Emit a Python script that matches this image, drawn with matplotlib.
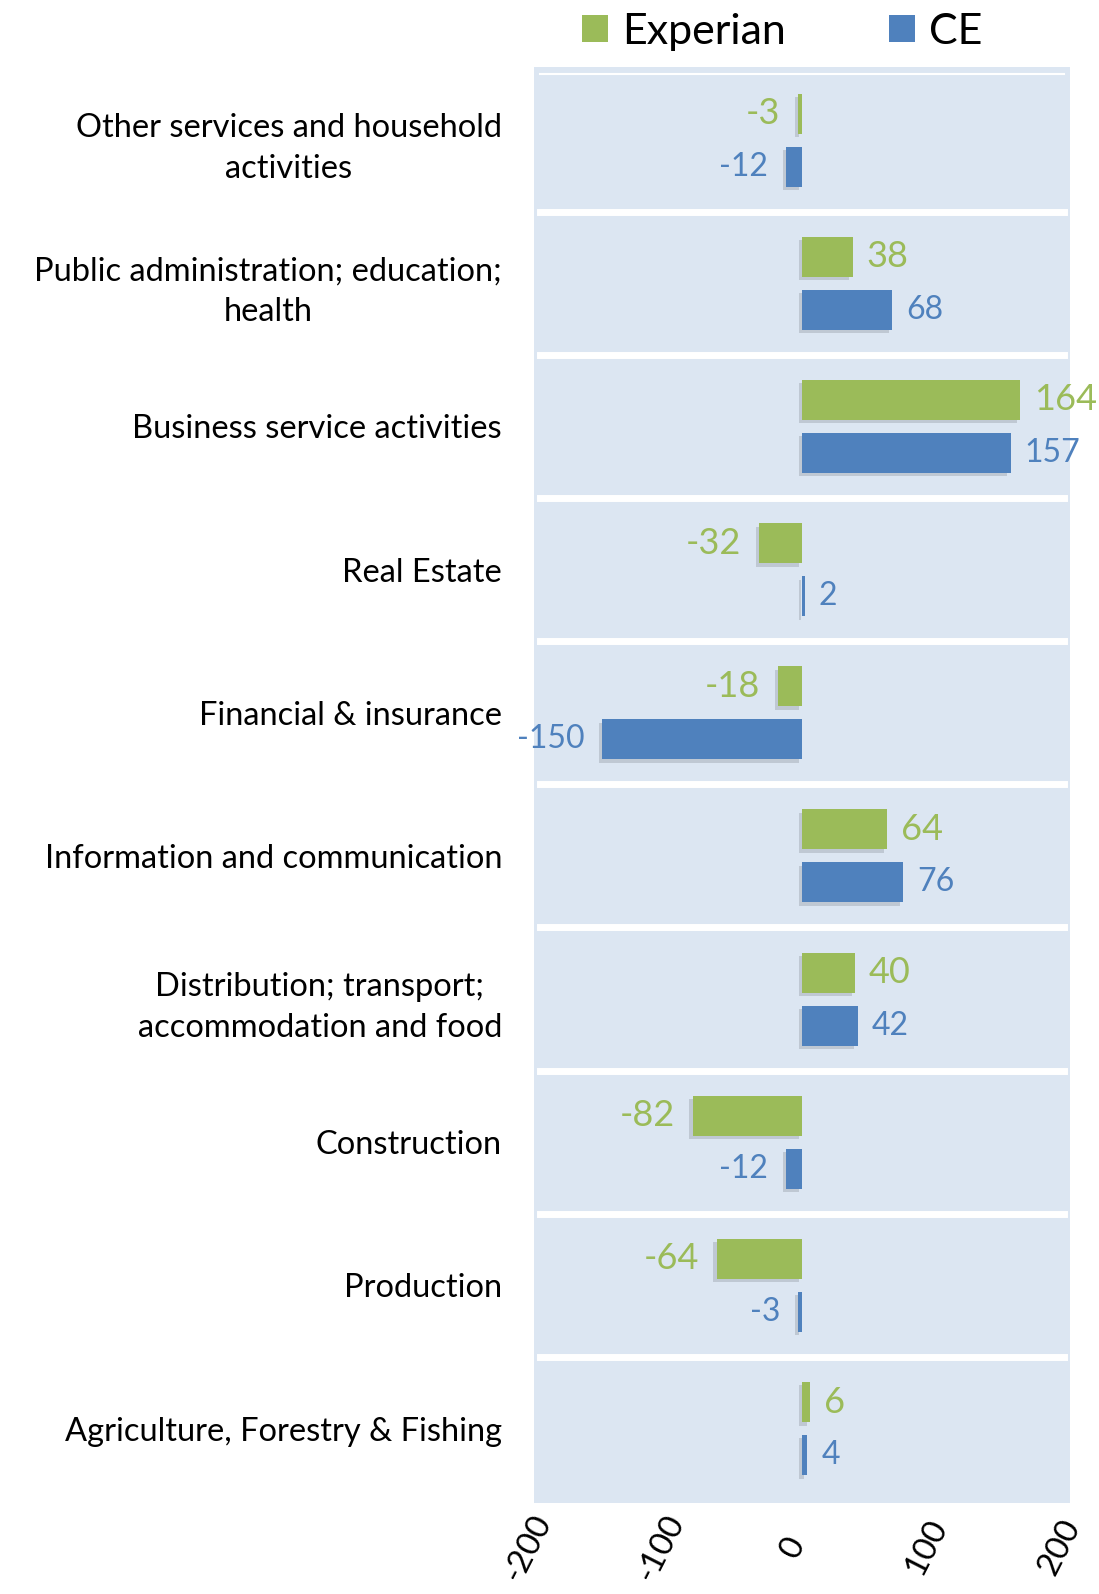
import matplotlib
matplotlib.use("Agg")
import matplotlib.pyplot as plt
import matplotlib.patheffects as pe
import matplotlib.transforms as mtransforms
from matplotlib.patches import Patch
import numpy as np

# ---------- data ----------
CATEGORIES = [
    "Other services and household\nactivities",
    "Public administration; education;\nhealth",
    "Business service activities",
    "Real Estate",
    "Financial & insurance",
    "Information and communication",
    "Distribution; transport;\naccommodation and food",
    "Construction",
    "Production",
    "Agriculture, Forestry & Fishing",
]
EXPERIAN = [-3, 38, 164, -32, -18, 64, 40, -82, -64, 6]
CE = [-12, 68, 157, 2, -150, 76, 42, -12, -3, 4]
X_TICKS = [-200, -100, 0, 100, 200]

GREEN = "#9BBB59"
BLUE = "#4F81BD"
BG = "#DCE6F2"
FONT = ["Lato", "DejaVu Sans"]

plt.rcParams["font.family"] = FONT


def main():
    fig = plt.figure(figsize=(10.99, 15.94), dpi=100)
    # plot area: 67..1503 px from top, 534..1070 px from left
    ax = fig.add_axes([0.4859, 0.0571, 0.4877, 0.9008])
    ax.set_facecolor(BG)
    for s in ax.spines.values():
        s.set_visible(False)

    y = np.arange(len(CATEGORIES))
    h = 0.28
    off = 0.185
    shadow = [pe.SimplePatchShadow(offset=(-2.5, -2.5), shadow_rgbFace="#8a919a", alpha=0.35), pe.Normal()]

    bars_e = ax.barh(y - off, EXPERIAN, height=h, color=GREEN, zorder=3)
    bars_c = ax.barh(y + off, CE, height=h, color=BLUE, zorder=3)
    for b in list(bars_e) + list(bars_c):
        b.set_path_effects(shadow)

    # data labels
    for vals, yy, col, fs in [(EXPERIAN, y - off, GREEN, 26), (CE, y + off, BLUE, 23)]:
        for v, yv in zip(vals, yy):
            dx = 10 if v >= 0 else -13
            ax.annotate(str(v), (v, yv), xytext=(dx, 0), textcoords="offset points",
                        ha="left" if v >= 0 else "right", va="center",
                        color=col, fontsize=fs, zorder=4)

    # white separators between categories (+ thin inner border at the top)
    ax.axhline(-0.465, xmin=0.012, xmax=0.988, color="white", lw=1.5, zorder=2)
    for k in range(len(CATEGORIES) - 1):
        ax.axhline(k + 0.5, xmin=0.012, xmax=0.988, color="white", lw=5, zorder=2)

    ax.set_xlim(-201.5, 201.5)
    ax.set_ylim(9.52, -0.51)

    ax.set_yticks(y)
    ax.set_yticklabels(CATEGORIES, fontsize=23.5, multialignment="center", linespacing=1.45)
    ax.tick_params(axis="y", length=0, pad=23)

    ax.set_xticks(X_TICKS)
    ax.set_xticklabels([str(t) for t in X_TICKS], fontsize=24, rotation=63,
                       ha="center", va="center", rotation_mode="anchor")
    ax.tick_params(axis="x", direction="out", length=7, width=3, color="white", pad=25)
    shift = mtransforms.ScaledTranslation(-6 / 72, 0, fig.dpi_scale_trans)
    for lab in ax.get_xticklabels():
        lab.set_transform(lab.get_transform() + shift)

    handles = [Patch(facecolor=GREEN, label="Experian"), Patch(facecolor=BLUE, label="CE")]
    fig.legend(handles=handles, loc="center", bbox_to_anchor=(0.712, 0.980), ncol=2,
               frameon=False, fontsize=31, handlelength=0.6, handleheight=0.6,
               handletextpad=0.33, columnspacing=2.4)

    fig.savefig("out.png", dpi=100)
    plt.close(fig)


if __name__ == "__main__":
    main()
